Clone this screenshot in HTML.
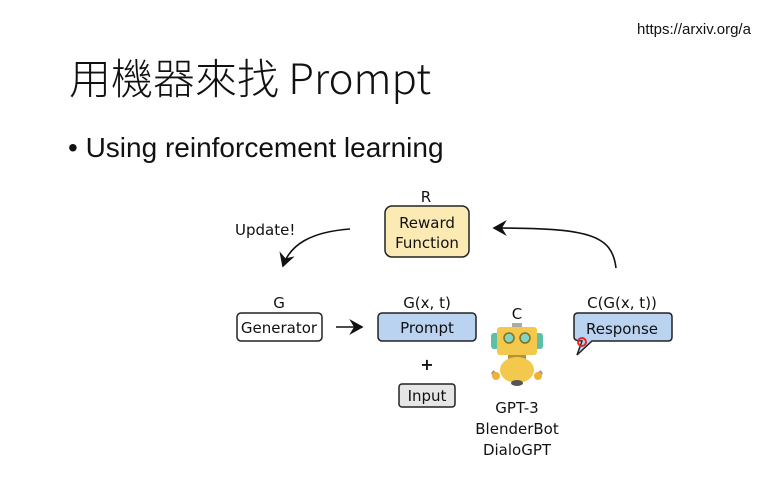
<!DOCTYPE html>
<html><head><meta charset="utf-8"><style>
body{margin:0;width:762px;height:478px;background:#fff;overflow:hidden;position:relative;font-family:"Liberation Sans","Noto Sans CJK TC",sans-serif}
.t{position:absolute;white-space:nowrap;color:#111}
</style></head><body>
<div class="t" style="left:637px;top:21px;font-size:15px">https://arxiv.org/a</div>
<div class="t" style="left:69px;top:46px;font-size:42px;font-family:'Noto Sans CJK TC','Liberation Sans',sans-serif;font-weight:300">用機器來找 Prompt</div>
<div class="t" style="left:68px;top:132px;font-size:28px">• Using reinforcement learning</div>
<svg width="762" height="478" style="position:absolute;left:0;top:0" font-family="'DejaVu Sans',sans-serif" font-size="15" fill="#111">
<defs><marker id="a" markerWidth="10" markerHeight="10" refX="8" refY="5" orient="auto"><path d="M0,0L9,5L0,10L3,5Z" fill="#111"/></marker></defs>
<text x="426" y="202" text-anchor="middle">R</text>
<rect x="385" y="206" width="84" height="51" rx="7" fill="#fbeab4" stroke="#222" stroke-width="1.5"/>
<text x="427" y="228" text-anchor="middle">Reward</text>
<text x="427" y="248" text-anchor="middle">Function</text>
<text x="235" y="235">Update!</text>
<path d="M350,229 C310,232 290,245 283,266" fill="none" stroke="#111" stroke-width="1.6" marker-end="url(#a)"/>
<path d="M616,268 C612,235 590,228 494,228" fill="none" stroke="#111" stroke-width="1.6" marker-end="url(#a)"/>
<text x="279" y="308" text-anchor="middle">G</text>
<rect x="237" y="313" width="85" height="28" rx="4" fill="#fff" stroke="#222" stroke-width="1.5"/>
<text x="279" y="333" text-anchor="middle">Generator</text>
<path d="M336,327 L362,327" stroke="#111" stroke-width="1.6" marker-end="url(#a)"/>
<text x="427" y="308" text-anchor="middle">G(x, t)</text>
<rect x="378" y="313" width="98" height="28" rx="4" fill="#b9d3f0" stroke="#222" stroke-width="1.5"/>
<text x="427" y="333" text-anchor="middle">Prompt</text>
<text x="427" y="370" text-anchor="middle" font-weight="bold" font-size="16">+</text>
<rect x="399" y="384" width="56" height="23" rx="3" fill="#e6e6e6" stroke="#222" stroke-width="1.5"/>
<text x="427" y="401" text-anchor="middle">Input</text>
<text x="517" y="319" text-anchor="middle">C</text>
<rect x="512" y="323" width="10" height="6" fill="#aaa"/>
<rect x="491" y="333" width="8" height="16" rx="3" fill="#5cc0a8"/>
<rect x="535" y="333" width="8" height="16" rx="3" fill="#5cc0a8"/>
<rect x="497" y="327" width="40" height="28" rx="3" fill="#f2c94c"/>
<circle cx="509" cy="338" r="5" fill="#7fd6c6" stroke="#8a6d1a" stroke-width="1.5"/>
<circle cx="525" cy="338" r="5" fill="#7fd6c6" stroke="#8a6d1a" stroke-width="1.5"/>
<rect x="508" y="355" width="18" height="4" fill="#b8903a"/>
<path d="M497,375 L492,372 M537,375 L542,372" stroke="#999" stroke-width="4"/>
<ellipse cx="517" cy="370" rx="17" ry="13" fill="#f2c94c"/>
<circle cx="496" cy="376" r="4" fill="#f2b134"/><circle cx="538" cy="376" r="4" fill="#f2b134"/>
<ellipse cx="517" cy="383" rx="6" ry="3" fill="#555"/>
<text x="517" y="413" text-anchor="middle">GPT-3</text>
<text x="517" y="434" text-anchor="middle">BlenderBot</text>
<text x="517" y="455" text-anchor="middle">DialoGPT</text>
<text x="622" y="308" text-anchor="middle">C(G(x, t))</text>
<path d="M578,313 H668 Q672,313 672,317 V337 Q672,341 668,341 H592 L577,355 L582,341 Q574,341 574,337 V317 Q574,313 578,313Z" fill="#b9d3f0" stroke="#222" stroke-width="1.5"/>
<text x="622" y="334" text-anchor="middle">Response</text>
<circle cx="582" cy="342" r="4" fill="none" stroke="#e22" stroke-width="2"/>
</svg>
</body></html>
